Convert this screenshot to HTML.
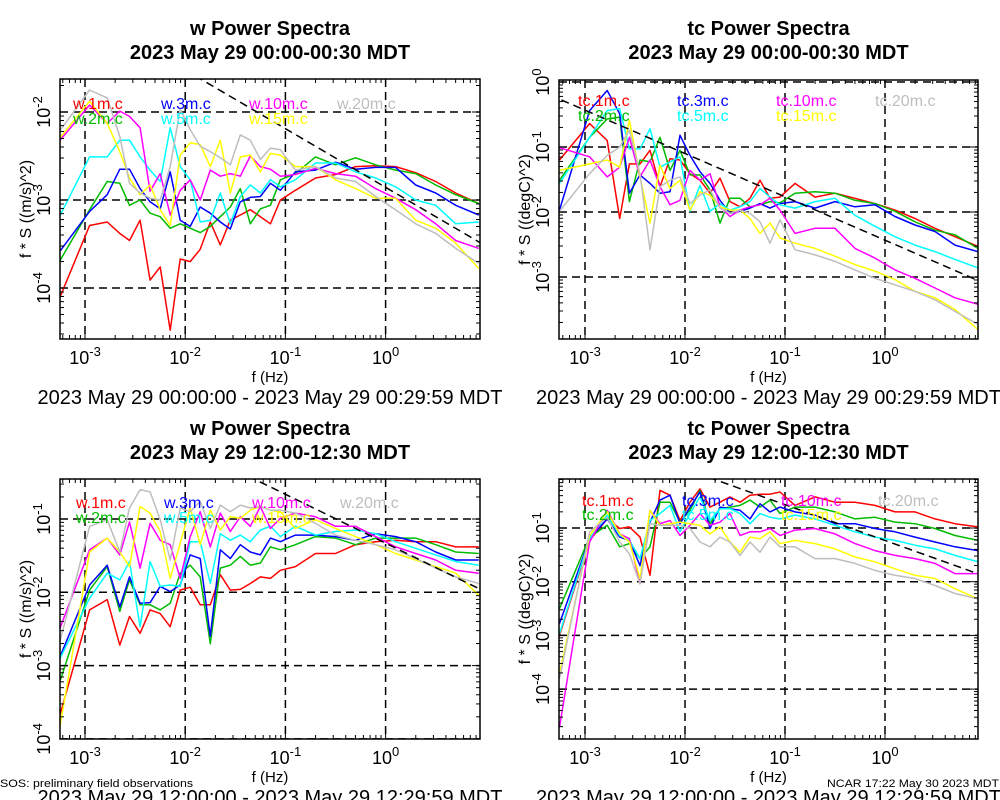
<!DOCTYPE html>
<html><head><meta charset="utf-8">
<style>
html,body{margin:0;padding:0;background:#fff;}
svg{display:block;font-family:"Liberation Sans",sans-serif;}
</style></head>
<body>
<svg id="chart" width="1000" height="800" viewBox="0 0 1000 800" xmlns="http://www.w3.org/2000/svg">
<rect x="0" y="0" width="1000" height="800" fill="#fff"/>
<text x="0" y="787" font-size="11" textLength="193" lengthAdjust="spacingAndGlyphs">SOS: preliminary field observations</text>
<text x="999" y="787" font-size="11" text-anchor="end" textLength="172" lengthAdjust="spacingAndGlyphs">NCAR 17:22 May 30 2023 MDT</text>
</svg>
<script>
// shared frequency grid (log10 Hz)
const logFreq=[-3.255,-2.954,-2.778,-2.653,-2.556,-2.45,-2.35,-2.25,-2.15,-2.05,-1.95,-1.85,-1.75,-1.65,-1.55,-1.45,-1.35,-1.25,-1.15,-1.05,-0.9,-0.7,-0.5,-0.3,-0.1,0.1,0.3,0.5,0.7,0.93];
const heights=['1m','2m','3m','5m','10m','15m','20m'];
const seriesColors=['#ff0000','#00bb00','#0000ff','#00ffff','#ff00ff','#ffff00','#bebebe'];
// log10 of f*S values
// top-left: w 00:00
const wA_1m=[-4.12,-3.29,-3.25,-3.38,-3.46,-3.23,-3.91,-3.76,-4.48,-3.67,-3.70,-3.56,-3.25,-3.51,-3.23,-3.17,-3.11,-3.19,-3.27,-3.00,-2.89,-2.75,-2.71,-2.62,-2.61,-2.62,-2.69,-2.79,-2.92,-3.04];
const wA_2m=[-3.70,-3.11,-2.79,-2.81,-3.06,-3.00,-3.15,-3.19,-3.32,-3.27,-3.32,-3.37,-3.30,-3.19,-3.08,-2.87,-3.27,-3.10,-3.06,-2.77,-2.70,-2.51,-2.60,-2.52,-2.60,-2.66,-2.70,-2.83,-2.94,-3.04];
const wA_3m=[-3.59,-3.13,-2.94,-2.65,-2.65,-2.87,-3.02,-3.10,-2.68,-3.23,-3.30,-3.08,-3.15,-3.25,-3.33,-3.02,-2.97,-2.96,-2.81,-2.89,-2.68,-2.66,-2.57,-2.65,-2.63,-2.63,-2.83,-2.92,-3.06,-3.17];
const wA_5m=[-3.19,-2.51,-2.51,-2.32,-2.32,-2.51,-2.66,-2.79,-2.18,-2.62,-2.77,-3.25,-3.23,-2.92,-3.27,-2.96,-2.83,-2.92,-2.77,-2.85,-2.77,-2.58,-2.58,-2.68,-2.75,-2.85,-3.00,-3.06,-3.27,-3.25];
const wA_10m=[-2.33,-1.92,-2.13,-1.99,-2.05,-2.18,-2.90,-2.70,-3.17,-2.89,-2.77,-3.00,-2.66,-2.73,-2.70,-2.73,-2.50,-2.62,-2.65,-2.73,-2.71,-2.64,-2.70,-2.73,-2.87,-2.98,-3.11,-3.27,-3.46,-3.55];
const wA_15m=[-2.30,-1.88,-2.13,-2.45,-2.75,-2.94,-2.83,-3.11,-3.29,-2.49,-2.35,-2.37,-2.62,-2.32,-2.92,-2.51,-2.49,-2.68,-2.47,-2.49,-2.62,-2.62,-2.77,-2.87,-2.98,-2.98,-3.23,-3.32,-3.49,-3.78];
const wA_20m=[-2.22,-1.75,-1.84,-2.28,-2.81,-2.92,-2.98,-3.00,-2.62,-1.97,-2.20,-2.39,-2.45,-2.52,-2.60,-2.26,-2.32,-2.54,-2.41,-2.43,-2.66,-2.62,-2.75,-2.79,-2.96,-3.11,-3.27,-3.38,-3.55,-3.72];
// top-right: tc 00:00
const tA_1m=[-1.20,-0.64,-0.90,-2.10,-1.26,-1.26,-1.05,-1.61,-1.18,-1.20,-1.41,-1.51,-1.71,-1.48,-1.84,-1.92,-1.79,-1.51,-1.79,-1.77,-1.56,-1.77,-1.71,-1.79,-1.87,-1.97,-2.10,-2.25,-2.38,-2.53];
const tA_2m=[-1.51,-0.85,-0.57,-0.54,-1.84,-1.20,-1.23,-0.85,-1.36,-1.05,-1.43,-1.43,-1.66,-2.17,-1.79,-1.79,-1.92,-1.89,-1.84,-1.86,-1.71,-1.69,-1.71,-1.82,-1.87,-1.99,-2.15,-2.28,-2.35,-2.56];
const tA_3m=[-1.97,-0.44,-0.13,-0.49,-1.71,-1.43,-1.56,-1.71,-1.69,-0.82,-1.13,-1.38,-1.56,-1.82,-2.02,-1.99,-1.94,-1.87,-1.94,-1.87,-1.84,-1.94,-1.84,-1.92,-1.89,-2.07,-2.20,-2.30,-2.51,-2.61];
const tA_5m=[-1.56,-0.85,-0.44,-0.41,-1.03,-1.03,-0.72,-1.31,-1.23,-1.15,-1.99,-1.59,-1.99,-1.87,-1.97,-1.92,-1.84,-1.64,-1.77,-1.89,-1.94,-1.84,-1.79,-2.05,-2.22,-2.38,-2.51,-2.61,-2.73,-2.86];
const tA_10m=[-1.01,-1.15,-1.46,-1.31,-0.85,-1.46,-1.20,-1.61,-1.89,-1.82,-1.36,-1.51,-1.41,-1.92,-2.07,-1.97,-1.92,-1.89,-1.79,-1.97,-2.33,-2.25,-2.25,-2.56,-2.71,-2.89,-3.02,-3.17,-3.32,-3.42];
const tA_15m=[-1.36,-1.26,-1.20,-1.31,-0.59,-1.46,-2.17,-1.28,-1.64,-1.51,-1.97,-1.69,-1.74,-1.92,-1.97,-1.97,-2.10,-2.33,-2.17,-2.40,-2.48,-2.56,-2.68,-2.81,-2.91,-3.04,-3.22,-3.32,-3.50,-3.81];
const tA_20m=[-1.99,-1.41,-1.13,-1.00,-0.74,-1.41,-2.58,-1.61,-1.51,-1.46,-1.87,-1.74,-1.66,-1.94,-2.02,-1.97,-2.02,-2.15,-2.48,-2.12,-2.58,-2.66,-2.76,-2.89,-3.02,-3.12,-3.22,-3.35,-3.53,-3.73];
// bottom-left: w 12:00
const wB_1m=[-3.70,-2.24,-2.10,-2.72,-2.33,-2.56,-2.24,-2.29,-2.47,-1.97,-1.93,-2.17,-2.17,-1.76,-1.97,-1.96,-1.88,-1.79,-1.81,-1.70,-1.65,-1.47,-1.47,-1.35,-1.31,-1.29,-1.31,-1.31,-1.38,-1.38];
const wB_2m=[-3.24,-1.97,-1.65,-2.26,-1.83,-2.17,-2.17,-2.24,-2.15,-1.74,-1.63,-1.79,-2.70,-1.67,-1.63,-1.51,-1.63,-1.60,-1.38,-1.42,-1.35,-1.24,-1.26,-1.35,-1.26,-1.26,-1.26,-1.35,-1.45,-1.47];
const wB_3m=[-2.90,-1.90,-1.63,-2.20,-1.79,-2.15,-2.14,-1.92,-1.99,-1.90,-1.49,-1.54,-2.60,-1.42,-1.54,-1.35,-1.45,-1.49,-1.26,-1.31,-1.22,-1.22,-1.24,-1.29,-1.20,-1.24,-1.31,-1.45,-1.56,-1.56];
const wB_5m=[-2.92,-2.08,-1.74,-1.83,-1.58,-2.47,-1.58,-1.92,-1.90,-1.92,-1.31,-1.31,-1.88,-1.20,-1.29,-1.22,-1.31,-1.15,-1.10,-1.24,-1.10,-1.22,-1.17,-1.15,-1.20,-1.31,-1.40,-1.49,-1.58,-1.63];
const wB_10m=[-2.51,-1.42,-1.26,-1.49,-1.04,-1.67,-1.06,-1.29,-1.35,-1.81,-1.24,-0.90,-1.38,-0.92,-1.17,-0.97,-1.10,-0.83,-1.13,-0.99,-0.92,-0.97,-1.10,-1.10,-1.24,-1.38,-1.47,-1.56,-1.70,-1.74];
const wB_15m=[-3.88,-1.45,-1.26,-1.45,-1.65,-0.83,-0.92,-1.17,-1.81,-1.33,-0.85,-1.35,-0.88,-1.15,-0.97,-0.99,-0.88,-0.83,-0.88,-0.90,-1.13,-1.01,-1.13,-1.24,-1.35,-1.47,-1.56,-1.65,-1.74,-2.04];
const wB_20m=[-2.70,-1.10,-1.01,-1.45,-0.85,-0.60,-0.63,-1.01,-1.56,-0.85,-0.90,-0.76,-1.13,-0.81,-0.90,-0.81,-0.85,-0.83,-0.88,-0.88,-0.92,-1.06,-1.22,-1.29,-1.35,-1.42,-1.54,-1.67,-1.79,-1.88];
// bottom-right: tc 12:00
const tB_1m=[-3.00,-1.23,-0.83,-1.01,-0.98,-1.17,-1.88,-0.30,-0.39,-0.86,-0.52,-0.27,-0.61,-0.52,-0.42,-0.52,-0.39,-0.37,-0.37,-0.33,-0.58,-0.42,-0.52,-0.52,-0.58,-0.70,-0.70,-0.83,-0.92,-0.98];
const tB_2m=[-2.50,-1.17,-0.95,-1.35,-1.29,-1.57,-1.35,-0.52,-0.52,-0.89,-0.67,-0.30,-0.92,-0.64,-0.61,-0.58,-0.48,-0.61,-0.48,-0.73,-0.61,-0.61,-0.70,-0.83,-0.80,-0.89,-0.92,-1.01,-1.14,-1.23];
const tB_3m=[-2.78,-1.20,-0.83,-1.17,-1.23,-1.70,-0.89,-0.48,-0.39,-0.92,-0.61,-0.33,-1.01,-0.61,-0.64,-0.67,-0.83,-0.55,-0.70,-0.61,-0.70,-0.76,-0.92,-0.92,-1.01,-1.07,-1.17,-1.26,-1.35,-1.42];
const tB_5m=[-2.97,-1.20,-0.76,-1.14,-1.23,-1.57,-0.86,-0.73,-0.58,-1.07,-0.73,-0.42,-0.86,-0.64,-0.64,-0.73,-0.92,-0.73,-0.80,-0.83,-0.76,-0.83,-0.95,-1.07,-1.17,-1.23,-1.32,-1.39,-1.51,-1.63];
const tB_10m=[-4.71,-1.26,-0.67,-1.11,-1.20,-2.04,-0.67,-0.92,-0.86,-1.14,-0.95,-0.73,-0.95,-0.89,-0.73,-1.14,-1.07,-1.07,-1.01,-1.14,-1.04,-1.01,-1.11,-1.29,-1.42,-1.51,-1.57,-1.66,-1.85,-1.85];
const tB_15m=[-3.71,-1.14,-0.70,-1.11,-1.26,-1.94,-0.67,-0.95,-0.92,-0.89,-0.92,-0.95,-1.11,-0.98,-1.26,-1.45,-1.17,-1.20,-1.07,-1.29,-1.23,-1.29,-1.39,-1.54,-1.63,-1.76,-1.88,-1.94,-2.13,-2.32];
const tB_20m=[-3.81,-1.07,-0.80,-1.26,-1.48,-2.04,-0.92,-0.95,-0.95,-0.95,-1.01,-1.26,-1.35,-1.17,-1.26,-1.51,-1.26,-1.45,-1.17,-1.35,-1.35,-1.57,-1.57,-1.66,-1.79,-1.88,-1.94,-2.07,-2.22,-2.32];
// -2/3 reference line anchors [logF, logS]
const refTL=[-1.854,-1.62];
const refTR=[-3.26,-0.26];
const refBL=[-1.289,-0.47];
const refBR=[-1.683,-0.11];
const refSlope=-2/3;
const xTickExp=[-3,-2,-1,0];

const NS='http://www.w3.org/2000/svg';
const svg=document.getElementById('chart');
function mk(tag,attrs,parent){const e=document.createElementNS(NS,tag);for(const k in attrs)e.setAttribute(k,attrs[k]);(parent||svg).appendChild(e);return e;}

const panels=[
 {id:'tl',x0:60,x1:480,y0:79,y1:339,xg:85,xs:100.2,yg:112,yd:-2,ys:88,yTicks:[-2,-3,-4],var:'w',title:'w Power Spectra',sub:'2023 May 29 00:00-00:30 MDT',ylabel:'f * S ((m/s)^2)',date:'2023 May 29 00:00:00 - 2023 May 29 00:29:59 MDT',data:[wA_1m,wA_2m,wA_3m,wA_5m,wA_10m,wA_15m,wA_20m],ref:refTL,lx:[73,161,249,337],ly:[109,124],dy:0},
 {id:'tr',x0:559,x1:978,y0:80,y1:339,xg:585,xs:100,yg:147,yd:-1,ys:65,yTicks:[0,-1,-2,-3],var:'tc',title:'tc Power Spectra',sub:'2023 May 29 00:00-00:30 MDT',ylabel:'f * S ((degC)^2)',date:'2023 May 29 00:00:00 - 2023 May 29 00:29:59 MDT',data:[tA_1m,tA_2m,tA_3m,tA_5m,tA_10m,tA_15m,tA_20m],ref:refTR,lx:[578,677,776,875],ly:[106,121],dy:0},
 {id:'bl',x0:60,x1:480,y0:479,y1:739,xg:85,xs:100.2,yg:519,yd:-1,ys:73.3,yTicks:[-1,-2,-3,-4],var:'w',title:'w Power Spectra',sub:'2023 May 29 12:00-12:30 MDT',ylabel:'f * S ((m/s)^2)',date:'2023 May 29 12:00:00 - 2023 May 29 12:29:59 MDT',data:[wB_1m,wB_2m,wB_3m,wB_5m,wB_10m,wB_15m,wB_20m],ref:refBL,lx:[76,164,252,340],ly:[508,523],dy:400},
 {id:'br',x0:559,x1:978,y0:479,y1:739,xg:585,xs:100,yg:528,yd:-1,ys:53.7,yTicks:[-1,-2,-3,-4],var:'tc',title:'tc Power Spectra',sub:'2023 May 29 12:00-12:30 MDT',ylabel:'f * S ((degC)^2)',date:'2023 May 29 12:00:00 - 2023 May 29 12:29:59 MDT',data:[tB_1m,tB_2m,tB_3m,tB_5m,tB_10m,tB_15m,tB_20m],ref:refBR,lx:[582,682,781,878],ly:[506,520],dy:400}
];

const defs=mk('defs',{});
panels.forEach(p=>{
 const xp=lf=>p.xg+p.xs*(lf+3);
 const yp=ly=>p.yg+p.ys*(p.yd-ly);
 const g=mk('g',{});
 
 
 const cp=mk('clipPath',{id:'clip-'+p.id},defs);
 mk('rect',{x:p.x0,y:p.y0,width:p.x1-p.x0,height:p.y1-p.y0},cp);
 const cx=(p.x0+p.x1)/2, cy=(p.y0+p.y1)/2;
 // titles
 const t1=mk('text',{x:cx,y:35+p.dy,'text-anchor':'middle','font-size':20,'font-weight':'bold'},g);t1.textContent=p.title;
 
 
 const t2=mk('text',{x:cx,y:59+p.dy,'text-anchor':'middle','font-size':20,'font-weight':'bold'},g);t2.textContent=p.sub;
 
 
 // grid
 const grid=mk('g',{stroke:'#000','stroke-width':1.5,'stroke-dasharray':'8,5','clip-path':'url(#clip-'+p.id+')'},g);
 
 
 xTickExp.forEach(e=>{mk('line',{x1:xp(e),x2:xp(e),y1:p.y0,y2:p.y1},grid);});
 for(let e=1;e>=-5;e--){const y=yp(e);if(y>=p.y0+2&&y<=p.y1+1)mk('line',{x1:p.x0,x2:p.x1,y1:y,y2:y},grid);}
 // series
 const sg=mk('g',{fill:'none','stroke-width':1.5,'stroke-linejoin':'round','clip-path':'url(#clip-'+p.id+')'},g);
 p.data.forEach((arr,i)=>{
  const d=arr.map((v,k)=>(k?'L':'M')+xp(logFreq[k]).toFixed(1)+','+yp(v).toFixed(1)).join('');
  const path=mk('path',{d:d,stroke:seriesColors[i]},sg);
  
  
 });
 // reference line
 const la=logFreq[0]-0.1, lb=1.1;
 const rl=mk('line',{x1:xp(la),y1:yp(p.ref[1]+refSlope*(la-p.ref[0])),x2:xp(lb),y2:yp(p.ref[1]+refSlope*(lb-p.ref[0])),stroke:'#000','stroke-width':1.5,'stroke-dasharray':'8,5','clip-path':'url(#clip-'+p.id+')'},g);
 
 
 // legend
 const order=[[0,0],[0,1],[1,0],[1,1],[2,0],[2,1],[3,0]];
 order.forEach((o,i)=>{
  const lt=mk('text',{x:p.lx[o[0]],y:p.ly[o[1]],'font-size':16,fill:seriesColors[i]},g);
  lt.textContent=p.var+'.'+heights[i]+'.c';
  
  
 });
 // frame and ticks
 const fr=mk('rect',{x:p.x0,y:p.y0,width:p.x1-p.x0,height:p.y1-p.y0,fill:'none',stroke:'#000','stroke-width':1.5},g);
 
 
 const tk=mk('g',{stroke:'#000','stroke-width':1},g);
 for(let d=-5;d<=1;d++)for(let m=1;m<10;m++){
  const lf=d+Math.log10(m);const x=xp(lf);
  if(x>p.x0&&x<p.x1){const L=m===1?8:4;mk('line',{x1:x,x2:x,y1:p.y1,y2:p.y1-L},tk);mk('line',{x1:x,x2:x,y1:p.y0,y2:p.y0+L},tk);}
  const y=yp(lf);
  if(y>p.y0&&y<p.y1){const L=m===1?8:4;mk('line',{x1:p.x0,x2:p.x0+L,y1:y,y2:y},tk);mk('line',{x1:p.x1,x2:p.x1-L,y1:y,y2:y},tk);}
 }
 // x tick labels
 xTickExp.forEach(e=>{
  const t=mk('text',{x:xp(e),y:364+p.dy,'text-anchor':'middle','font-size':18},g);
  
  
  const a=mk('tspan',{},t);a.textContent='10';
  const b=mk('tspan',{dy:-8,'font-size':13},t);b.textContent=String(e);
 });
 // y tick labels
 p.yTicks.forEach(e=>{
  const y=yp(e), x=p.x0-10;
  const t=mk('text',{x:x,y:y,'text-anchor':'middle','font-size':18,transform:'rotate(-90 '+x+' '+y+')'},g);
  
  
  const a=mk('tspan',{},t);a.textContent='10';
  const b=mk('tspan',{dy:-8,'font-size':13},t);b.textContent=String(e);
 });
 // axis titles
 const xl=mk('text',{x:cx,y:382+p.dy,'text-anchor':'middle','font-size':15},g);xl.textContent='f (Hz)';
 
 
 const yx=p.x0-29;
 const yl=mk('text',{x:yx,y:cy,'text-anchor':'middle','font-size':16,transform:'rotate(-90 '+yx+' '+cy+')'},g);yl.textContent=p.ylabel;
 
 
 const dt=mk('text',{x:cx,y:404+p.dy,'text-anchor':'middle','font-size':20,textLength:465,lengthAdjust:'spacingAndGlyphs'},g);dt.textContent=p.date;
 
 
});
</script>
</body></html>
